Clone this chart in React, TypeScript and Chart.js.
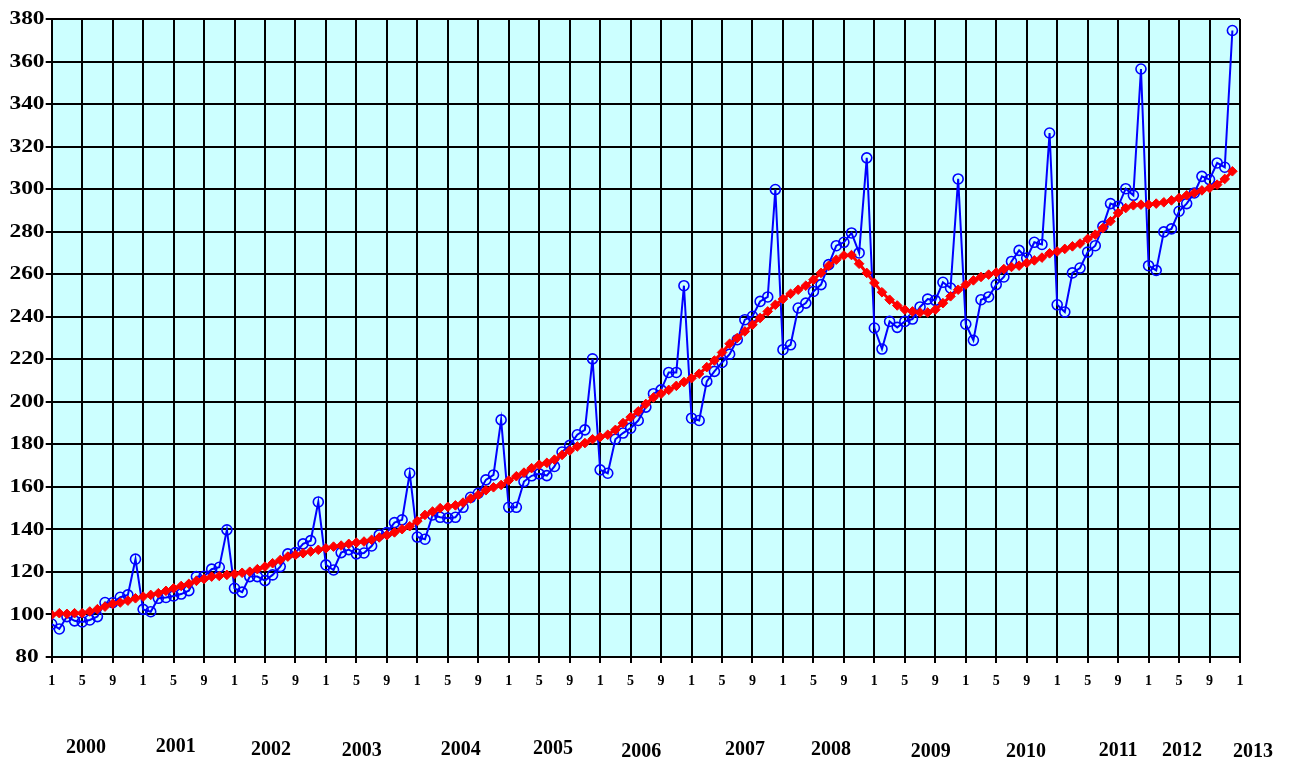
import React, { useEffect, useRef } from "react";
import { Chart, registerables } from "chart.js";

Chart.register(...registerables);

// Monthly values, Jan 2000 .. Dec 2012 (one row per year)
const monthly2000 = [95.5, 93.2, 99, 97, 96.5, 97.4, 99, 105.6, 105.5, 108.1, 109.2, 126];
const monthly2001 = [102.4, 101.3, 107.6, 108, 108.7, 109.6, 111.2, 117.8, 118, 121.3, 122.2, 139.8];
const monthly2002 = [112.3, 110.5, 117.8, 117.8, 115.9, 118.6, 122.5, 128.5, 129.1, 133.2, 134.7, 152.9];
const monthly2003 = [123.3, 120.9, 129.1, 130.5, 128.5, 128.9, 132.2, 137.4, 138.5, 143.2, 144.5, 166.4];
const monthly2004 = [136.4, 135.4, 146.8, 145.7, 145.3, 145.7, 150.4, 155.1, 157, 163.3, 165.6, 191.5];
const monthly2005 = [150.4, 150.4, 162.5, 165.2, 166.1, 165.3, 169.6, 176.4, 179.5, 184.5, 186.8, 220.2];
const monthly2006 = [168, 166.4, 182.4, 185.3, 187.6, 191.2, 197.5, 203.8, 205.6, 213.8, 213.8, 254.6];
const monthly2007 = [192.3, 191.2, 209.6, 214.3, 218.5, 222.4, 229.2, 238.6, 240.2, 247.2, 249.3, 299.8];
const monthly2008 = [224.5, 226.8, 244.1, 246.4, 251.9, 255.1, 264.5, 273.4, 275, 279.4, 270, 314.7];
const monthly2009 = [234.7, 224.8, 237.8, 235, 237.8, 238.9, 244.6, 248.3, 247.7, 256.2, 253.5, 304.8];
const monthly2010 = [236.5, 228.9, 248, 249.3, 255.1, 258.7, 266, 271.2, 267.6, 275, 274, 326.4];
const monthly2011 = [245.6, 242.2, 260.6, 262.9, 270.4, 273.4, 282.5, 293.2, 291.9, 300.2, 297.1, 356.5];
const monthly2012 = [264, 261.8, 279.9, 281.3, 289.6, 293.2, 298.2, 306, 304.5, 312.3, 310.3, 374.6];

// Trend values, Jan 2000 .. Dec 2012
const trend2000 = [99.8, 100.6, 100.3, 100.6, 100.6, 101.4, 102.5, 103.7, 105, 105.6, 106.5, 107.6];
const trend2001 = [108.4, 109.2, 110, 111.1, 112.3, 113.4, 114.4, 115.8, 116.7, 117.8, 118.1, 118.6];
const trend2002 = [119, 119.6, 120.1, 121.3, 122.5, 124.1, 125.6, 127.2, 128, 128.8, 129.6, 130.4];
const trend2003 = [131.1, 131.9, 132.4, 133.2, 133.8, 134.3, 135.1, 136.2, 137.3, 138.6, 140.1, 141.5];
const trend2004 = [143.9, 146.8, 148.4, 150, 150.6, 151.3, 152.6, 154.5, 156.2, 158.4, 159.8, 160.9];
const trend2005 = [163, 165, 166.7, 168.8, 170.4, 171.3, 172.8, 175, 177, 179, 180.6, 182.4];
const trend2006 = [183.4, 184.5, 186.8, 190, 192.8, 195.5, 199, 202, 203.8, 205.6, 207.5, 209.3];
const trend2007 = [211.1, 213.2, 216.3, 219.4, 223.2, 227.3, 230, 233.1, 236.2, 239.4, 242.5, 245.6];
const trend2008 = [248.3, 250.8, 252.7, 254.6, 257.4, 260.6, 264, 266.8, 268.8, 269, 264.9, 260.6];
const trend2009 = [255.9, 251.5, 248, 245.3, 243.3, 242.5, 242, 242, 243.3, 246.4, 249.6, 252.7];
const trend2010 = [255.1, 257.1, 258.7, 259.8, 260.8, 262.4, 263.4, 264, 265.3, 266.5, 267.8, 269.8];
const trend2011 = [270.7, 271.9, 273.1, 274.4, 276.6, 278.6, 281.7, 284.9, 288.8, 291.1, 292.4, 292.7];
const trend2012 = [292.7, 293.2, 293.8, 294.7, 295.8, 297.1, 298.2, 299.4, 300.5, 302.1, 304.8, 308.4];

const yearLabels = ["2000", "2001", "2002", "2003", "2004", "2005", "2006", "2007", "2008", "2009", "2010", "2011", "2012", "2013"];
const monthTickLabels = ["1", "5", "9"];

const monthlyValues = [
  ...monthly2000, ...monthly2001, ...monthly2002, ...monthly2003, ...monthly2004,
  ...monthly2005, ...monthly2006, ...monthly2007, ...monthly2008, ...monthly2009,
  ...monthly2010, ...monthly2011, ...monthly2012,
];
const trendValues = [
  ...trend2000, ...trend2001, ...trend2002, ...trend2003, ...trend2004,
  ...trend2005, ...trend2006, ...trend2007, ...trend2008, ...trend2009,
  ...trend2010, ...trend2011, ...trend2012,
];

// where (in month units along the x axis) each year caption sits
const yearLabelAt = [4.5, 16.3, 28.8, 40.7, 53.7, 65.8, 77.4, 91, 102.3, 115.4, 127.9, 140, 148.4, 157.7];
const yearLabelY = [748, 747, 750, 751, 750, 749, 752, 750, 750, 752, 752, 751, 751, 752];

const SERIF = '"Liberation Serif", "Times New Roman", serif';

const backgroundPlugin = {
  id: "plotBackground",
  beforeDraw(chart: any) {
    const { ctx, chartArea } = chart;
    ctx.save();
    ctx.fillStyle = "#CCFFFF";
    ctx.fillRect(chartArea.left, chartArea.top, chartArea.right - chartArea.left, chartArea.bottom - chartArea.top);
    ctx.restore();
  },
};

// y tick labels: wide bold serif, centred in the left margin
const yLabelPlugin = {
  id: "yLabels",
  afterDraw(chart: any) {
    const { ctx } = chart;
    const ys = chart.scales.y;
    ctx.save();
    ctx.fillStyle = "#000";
    ctx.font = `bold 18px ${SERIF}`;
    ctx.textAlign = "center";
    ctx.textBaseline = "middle";
    ys.ticks.forEach((t: any) => {
      const y = ys.getPixelForValue(t.value);
      ctx.save();
      ctx.translate(27, y + 0.5);
      ctx.scale(1.3, 1);
      ctx.fillText(String(t.value), 0, 0);
      ctx.restore();
    });
    ctx.restore();
  },
};

const yearLabelPlugin = {
  id: "yearLabels",
  afterDraw(chart: any) {
    const { ctx } = chart;
    const xs = chart.scales.x;
    ctx.save();
    ctx.fillStyle = "#000";
    ctx.font = `bold 20px ${SERIF}`;
    ctx.textAlign = "center";
    ctx.textBaseline = "middle";
    yearLabels.forEach((label, k) => {
      ctx.fillText(label, xs.getPixelForValue(yearLabelAt[k]), yearLabelY[k]);
    });
    ctx.restore();
  },
};

export default function App() {
  const canvasRef = useRef<HTMLCanvasElement | null>(null);

  useEffect(() => {
    const canvas = canvasRef.current;
    if (!canvas) return;
    const chart = new Chart(canvas, {
      type: "line",
      data: {
        datasets: [
          {
            label: "monthly",
            data: monthlyValues.map((v, i) => ({ x: i, y: v })),
            borderColor: "#0000FF",
            borderWidth: 2,
            pointStyle: "circle",
            pointRadius: 5,
            pointBorderWidth: 1.6,
            pointBorderColor: "#0000FF",
            pointBackgroundColor: "rgba(0,0,0,0)",
            tension: 0,
            order: 2,
          },
          {
            label: "trend",
            data: trendValues.map((v, i) => ({ x: i, y: v })),
            borderColor: "#FF0000",
            borderWidth: 3,
            pointStyle: "rectRot",
            pointRadius: 4.8,
            pointBorderWidth: 1,
            pointBorderColor: "#FF0000",
            pointBackgroundColor: "#FF0000",
            tension: 0,
            order: 1,
          },
        ],
      },
      options: {
        responsive: false,
        animation: false,
        devicePixelRatio: 1,
        layout: { padding: { top: 19, right: 51, left: 0, bottom: 0 } },
        plugins: {
          legend: { display: false },
          tooltip: { enabled: false },
          title: { display: false },
        },
        scales: {
          x: {
            type: "linear",
            min: 0,
            max: 156,
            afterFit(scale: any) {
              scale.height = 106;
            },
            grid: { color: "#000", lineWidth: 2, tickLength: 6, drawTicks: true },
            border: { color: "#000", width: 2 },
            ticks: {
              stepSize: 4,
              autoSkip: false,
              maxRotation: 0,
              padding: 10,
              color: "#000",
              font: { family: SERIF, weight: "bold", size: 14 },
              callback: (value: any) => monthTickLabels[(Number(value) % 12) / 4],
            },
          },
          y: {
            min: 80,
            max: 380,
            afterFit(scale: any) {
              scale.width = 51.7;
            },
            grid: { color: "#000", lineWidth: 2, tickLength: 6, drawTicks: true },
            border: { color: "#000", width: 2 },
            ticks: {
              stepSize: 20,
              padding: 0,
              color: "rgba(0,0,0,0)",
              font: { family: SERIF, weight: "bold", size: 16 },
            },
          },
        },
      } as any,
      plugins: [backgroundPlugin, yLabelPlugin, yearLabelPlugin],
    });
    return () => chart.destroy();
  }, []);

  return (
    <div style={{ position: "fixed", left: 0, top: 0, width: 1291, height: 763, background: "#fff" }}>
      <canvas ref={canvasRef} width={1291} height={763} style={{ display: "block" }} />
    </div>
  );
}
